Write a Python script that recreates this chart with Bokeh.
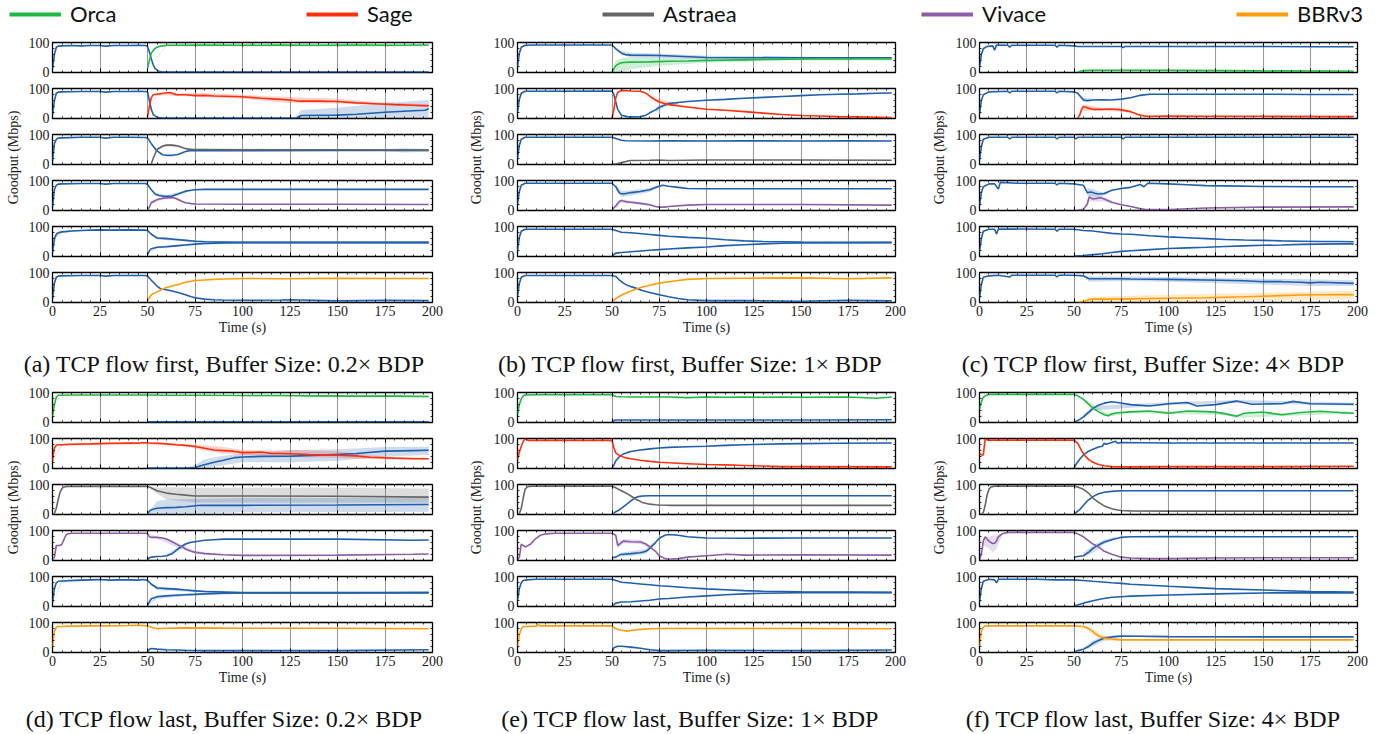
import numpy as np
from math import pi
from bokeh.plotting import figure
from bokeh.layouts import column, row
from bokeh.models import (Range1d, FixedTicker, LinearAxis, Label, Legend, LegendItem,
                          CustomLabelingPolicy)
from bokeh.embed import file_html
from bokeh.resources import INLINE

# ---------------------------------------------------------------- data
ALGOS = ["Orca", "Sage", "Astraea", "Vivace", "TCP", "BBRv3"]
LEGEND_ALGOS = ["Orca", "Sage", "Astraea", "Vivace", "BBRv3"]
CAPTIONS_TOP = ["(a) TCP flow first, Buffer Size: 0.2\u00d7 BDP",
                "(b) TCP flow first, Buffer Size: 1\u00d7 BDP",
                "(c) TCP flow first, Buffer Size: 4\u00d7 BDP"]
CAPTIONS_BOTTOM = ["(d) TCP flow last, Buffer Size: 0.2\u00d7 BDP",
                   "(e) TCP flow last, Buffer Size: 1\u00d7 BDP",
                   "(f) TCP flow last, Buffer Size: 4\u00d7 BDP"]
X_TICKS = [0, 25, 50, 75, 100, 125, 150, 175, 200]
Y_TICKS = [0, 100]

# series: lists of (time s, goodput Mbps); bands: (time, low, high)
# ---- (a) TCP first, 0.2x BDP
A_TCP = [
    [(0,10),(1,60),(2,85),(3,89),(5,90),(10,91),(15,90),(20,91),(25,91),(28,89),(32,91),(40,91),(45,92),(49,91),(50,88),(51,70),(52,45),(53,25),(54,12),(56,3),(58,0),(198,0)],
    [(0,10),(1,60),(2,85),(3,89),(5,90),(15,91),(25,91),(28,89),(32,91),(40,91),(45,92),(49,91),(50,90),(51,60),(52,30),(53,12),(55,3),(58,0),(128,0),(131,9),(150,10),(160,13),(175,20),(190,25),(196,27),(198,32)],
    [(0,10),(1,70),(2,85),(3,89),(5,90),(15,92),(25,92),(28,89),(32,92),(40,92),(49,91),(50,90),(52,70),(55,45),(58,32),(60,30),(63,30),(66,33),(70,43),(73,47),(75,46),(100,46),(150,47),(198,47)],
    [(0,10),(1,70),(2,85),(3,89),(5,90),(15,91),(25,91),(28,89),(32,91),(49,91),(50,88),(52,70),(54,55),(56,50),(58,48),(60,47),(63,48),(66,55),(70,65),(73,68),(75,70),(80,71),(100,71),(150,71),(198,71)],
    [(0,10),(1,60),(2,75),(3,80),(5,83),(10,86),(15,88),(20,89),(25,90),(30,89),(40,90),(49,89),(50,88),(52,75),(55,62),(60,60),(65,57),(70,54),(75,51),(80,49),(90,48),(100,47),(150,47),(198,47)],
    [(0,10),(1,65),(2,85),(3,89),(5,90),(15,91),(25,91),(28,89),(32,91),(49,91),(50,90),(52,75),(55,55),(57,45),(60,42),(63,38),(66,33),(70,25),(73,18),(75,15),(80,10),(85,8),(90,7),(100,6),(120,7),(125,8),(150,4),(175,6),(198,5)],
]
A_CC = [
    [(50,12),(51,40),(52,65),(54,82),(56,88),(58,90),(60,92),(80,93),(100,92),(120,93),(140,92),(160,93),(180,92),(198,93)],
    [(50,5),(51,40),(52,70),(53,80),(55,82),(58,85),(62,88),(65,80),(70,80),(75,77),(80,78),(85,76),(90,75),(100,73),(110,68),(120,64),(125,62),(130,58),(140,58),(150,57),(160,52),(170,49),(180,46),(190,44),(198,42)],
    [(52,0),(53,20),(55,50),(58,62),(60,65),(63,65),(66,62),(68,58),(70,53),(73,50),(75,50),(100,49),(150,49),(198,48)],
    [(50,0),(51,10),(52,25),(54,33),(56,38),(58,40),(60,42),(63,43),(65,40),(68,30),(70,25),(73,22),(75,21),(100,20),(150,20),(198,19)],
    [(50,5),(51,18),(52,25),(55,30),(60,32),(65,35),(70,38),(75,41),(80,43),(90,45),(100,46),(150,46),(198,46)],
    [(50,3),(51,15),(52,25),(55,35),(58,45),(60,50),(63,55),(66,60),(70,68),(75,74),(80,76),(85,78),(90,79),(100,81),(120,80),(150,82),(175,81),(198,81)],
]
A_TCP_BAND = [
    [],
    [(128,0,0),(131,0,28),(150,0,35),(175,0,52),(198,0,62)],
    [(175,44,52),(185,40,54),(198,42,52)],
    [(54,50,60),(60,42,52),(66,50,60),(72,64,70)],
    [(0,10,10),(2,65,82),(5,78,86),(10,83,88),(20,88,90),(49,89,89),(50,88,88),(55,57,67),(65,53,61),(75,48,54),(100,45,49),(150,45,49),(198,43,51)],
    [],
]
A_CC_BAND = [
    [(50,12,12),(60,89,94),(100,89,95),(150,88,95),(198,89,95)],
    [(50,5,5),(55,78,86),(70,75,85),(80,72,86),(100,66,80),(110,60,76),(125,52,72),(150,50,66),(170,45,55),(198,38,47)],
    [(55,47,53),(60,60,70),(66,58,66),(70,50,56),(75,47,53),(198,46,50)],
    [(52,20,30),(58,35,45),(64,38,47),(70,22,28),(75,19,23)],
    [(50,5,5),(55,26,34),(75,38,44),(100,44,48),(198,43,49)],
    [],
]

# ---- (b) TCP first, 1x BDP
B_TCP = [
    [(0,20),(1,65),(2,85),(4,92),(10,93),(50,93),(52,80),(55,65),(57,60),(60,58),(75,57),(100,50),(150,49),(198,49)],
    [(0,20),(1,65),(2,85),(4,92),(50,93),(51,80),(52,55),(53,30),(55,10),(58,5),(60,4),(65,5),(68,10),(70,18),(73,28),(75,37),(78,45),(80,50),(90,57),(100,61),(110,64),(120,68),(130,71),(140,74),(150,77),(160,80),(170,82),(180,83),(190,85),(198,86)],
    [(0,20),(1,65),(2,85),(4,92),(50,92),(52,88),(55,82),(57,80),(70,79),(80,80),(100,79),(120,80),(150,79),(175,80),(198,79)],
    [(0,20),(1,65),(2,85),(4,92),(50,92),(52,80),(54,58),(56,55),(60,60),(65,64),(70,70),(74,80),(77,85),(80,82),(85,78),(90,74),(100,73),(120,73),(150,73),(198,73)],
    [(0,20),(1,65),(2,85),(4,92),(50,92),(52,88),(55,82),(60,80),(70,74),(75,71),(80,68),(90,64),(100,61),(110,56),(120,52),(130,50),(140,49),(150,48),(198,47)],
    [(0,20),(1,65),(2,85),(4,91),(50,91),(52,88),(54,75),(56,65),(58,58),(60,53),(63,47),(66,40),(70,33),(75,25),(80,18),(85,12),(90,8),(100,5),(120,5),(150,3),(175,6),(198,4)],
]
B_CC = [
    [(50,0),(51,12),(52,22),(54,30),(56,33),(60,34),(70,35),(80,37),(90,38),(100,40),(120,42),(140,44),(160,45),(180,45),(198,45)],
    [(50,0),(51,30),(52,70),(53,88),(55,95),(58,94),(60,93),(65,92),(68,85),(70,75),(73,62),(75,55),(80,46),(90,38),(100,30),(110,27),(120,22),(130,17),(140,12),(150,9),(160,7),(170,5),(180,4),(190,3),(198,2)],
    [(50,0),(52,0),(55,5),(58,10),(60,12),(70,13),(75,14),(80,12),(90,13),(100,14),(150,14),(198,13)],
    [(50,0),(52,15),(54,30),(55,33),(58,28),(60,27),(65,23),(70,18),(73,12),(75,10),(78,10),(80,12),(90,17),(100,19),(120,19),(150,19),(198,17)],
    [(50,0),(52,10),(55,12),(60,15),(70,20),(75,22),(80,24),(90,28),(100,31),(110,36),(120,39),(130,42),(140,44),(150,45),(198,46)],
    [(50,0),(52,12),(54,20),(56,27),(58,32),(60,38),(63,45),(66,52),(70,58),(75,65),(80,70),(85,74),(90,78),(100,81),(120,82),(150,83),(175,80),(198,83)],
]
B_TCP_BAND = [
    [(50,93,93),(55,60,72),(60,50,66),(75,48,64),(100,46,56),(150,45,53),(198,45,51)],
    [(73,20,36),(78,38,52),(85,48,56)],
    [],
    [(52,70,88),(55,45,65),(60,50,68),(70,62,76),(76,80,88)],
    [],
    [],
]
B_CC_BAND = [
    [(50,0,0),(52,0,40),(56,0,50),(60,10,50),(75,22,48),(100,32,47),(150,40,49),(198,40,48)],
    [(73,55,68),(78,48,60),(85,42,50)],
    [],
    [(52,5,25),(55,25,38),(60,22,32),(70,15,22)],
    [],
    [],
]

# ---- (c) TCP first, 4x BDP
C_TCP = [
    [(0,15),(1,60),(2,80),(4,88),(7,90),(8,75),(9,93),(15,92),(16,85),(17,92),(40,92),(41,85),(42,92),(50,90),(52,88),(75,88),(76,84),(77,88),(100,88),(125,88),(150,88),(175,87),(198,87)],
    [(0,15),(1,60),(2,80),(5,90),(15,92),(16,86),(17,92),(40,92),(41,86),(42,92),(50,90),(52,85),(54,70),(55,62),(57,60),(60,62),(65,63),(70,62),(75,65),(80,70),(85,78),(90,82),(100,82),(120,82),(150,82),(175,81),(198,81)],
    [(0,15),(1,60),(2,85),(5,92),(15,92),(16,86),(17,92),(40,92),(41,86),(42,92),(50,92),(51,86),(52,92),(75,92),(76,86),(77,92),(100,92),(125,92),(150,92),(175,92),(198,92)],
    [(0,15),(1,60),(2,80),(5,90),(8,90),(10,72),(11,95),(20,92),(40,92),(41,86),(42,92),(50,90),(52,88),(55,85),(57,60),(59,62),(61,58),(63,55),(66,57),(70,68),(75,74),(80,78),(85,88),(87,80),(89,92),(100,90),(110,87),(120,84),(130,83),(150,81),(175,80),(198,80)],
    [(0,15),(1,60),(2,85),(5,92),(8,92),(9,76),(10,93),(40,92),(41,85),(42,92),(50,92),(55,88),(60,86),(65,82),(70,78),(75,76),(80,75),(90,70),(100,66),(110,63),(120,60),(130,57),(140,55),(150,54),(160,52),(170,51),(180,50),(190,50),(198,49)],
    [(0,15),(1,60),(2,85),(5,90),(10,92),(16,86),(17,92),(40,92),(41,86),(42,92),(50,92),(55,90),(58,80),(60,80),(70,80),(75,80),(80,79),(100,78),(120,76),(140,73),(150,70),(160,70),(170,68),(175,66),(180,68),(198,64)],
]
C_CC = [
    [(52,0),(55,5),(60,6),(100,6),(150,4),(198,3)],
    [(52,0),(53,10),(54,30),(55,40),(57,35),(60,30),(65,30),(70,31),(75,28),(80,22),(85,10),(88,6),(90,6),(100,7),(120,6),(150,6),(198,5)],
    [(52,0),(198,0)],
    [(52,0),(55,3),(57,20),(58,45),(60,38),(62,40),(64,42),(66,38),(70,27),(75,18),(78,15),(80,12),(85,5),(88,2),(100,2),(120,7),(150,10),(198,11)],
    [(50,0),(55,2),(60,5),(65,8),(70,12),(75,16),(80,18),(90,22),(100,26),(110,28),(120,30),(130,33),(140,35),(150,37),(160,38),(170,40),(180,41),(190,42),(198,42)],
    [(52,0),(55,2),(58,8),(60,10),(70,10),(80,11),(100,13),(120,15),(140,18),(150,20),(160,22),(170,24),(180,25),(190,26),(198,25)],
]
C_TCP_BAND = [
    [],
    [(52,80,88),(55,55,70),(60,58,66)],
    [],
    [(57,50,75),(60,48,72),(64,45,62),(68,55,64)],
    [],
    [(55,85,95),(58,70,88),(75,72,88),(100,70,86),(150,60,80),(175,55,78),(198,55,75)],
]
C_CC_BAND = [
    [(52,0,0),(55,2,8),(100,2,9),(198,1,5)],
    [(54,25,40),(57,25,45),(65,25,35),(75,22,33),(80,18,26)],
    [],
    [(57,10,30),(58,30,55),(62,28,50),(66,30,45),(70,22,32)],
    [],
    [(52,0,0),(58,0,18),(100,0,25),(150,5,32),(198,10,38)],
]

# ---- (d) TCP last, 0.2x BDP
D_TCP = [
    [(50,1),(198,1)],
    [(50,0),(70,0),(75,2),(78,8),(85,20),(90,27),(96,36),(100,38),(110,40),(126,41),(140,44),(151,47),(160,50),(175,58),(190,60),(198,61)],
    [(50,0),(51,10),(52,15),(55,20),(60,22),(65,23),(70,25),(78,30),(100,30),(150,31),(198,33)],
    [(50,0),(51,8),(52,10),(55,12),(58,13),(60,15),(63,22),(66,38),(68,47),(70,55),(73,61),(75,63),(80,68),(85,70),(90,72),(100,72),(150,72),(190,68),(198,69)],
    [(50,0),(51,15),(52,25),(55,32),(60,35),(65,37),(70,39),(75,40),(80,42),(90,44),(100,45),(150,45),(198,46)],
    [(50,0),(51,10),(52,12),(55,10),(60,8),(70,6),(80,5),(100,5),(150,5),(198,8)],
]
D_CC = [
    [(0,20),(1,60),(2,85),(3,92),(10,93),(20,93),(30,93),(40,93),(50,93),(60,92),(80,92),(100,91),(120,91),(140,90),(160,89),(180,89),(198,88)],
    [(0,25),(1,70),(2,78),(3,80),(5,80),(10,82),(20,83),(25,84),(30,85),(35,85),(40,86),(45,85),(48,88),(50,86),(55,85),(60,83),(65,80),(70,78),(75,74),(80,68),(85,62),(90,60),(95,58),(100,53),(105,54),(110,55),(115,50),(120,50),(126,49),(135,46),(150,44),(160,42),(167,37),(180,34),(190,32),(198,32)],
    [(0,0),(1,2),(2,20),(3,50),(4,75),(5,88),(6,93),(8,95),(50,95),(52,90),(55,80),(60,72),(65,68),(70,65),(75,62),(100,62),(150,61),(198,58)],
    [(0,0),(1,10),(2,50),(4,50),(5,55),(6,70),(7,85),(8,90),(10,92),(50,92),(51,80),(52,78),(55,78),(58,76),(60,72),(63,63),(66,52),(68,47),(70,38),(73,30),(75,27),(80,22),(90,18),(100,16),(150,17),(190,20),(198,21)],
    [(0,10),(1,60),(2,80),(3,85),(5,86),(10,88),(15,89),(20,90),(25,91),(30,89),(35,90),(40,90),(45,89),(48,91),(50,88),(52,75),(55,62),(60,60),(65,58),(70,55),(75,52),(80,50),(90,48),(100,46),(150,46),(198,46)],
    [(0,20),(1,70),(2,85),(3,88),(5,88),(10,89),(20,90),(30,90),(40,91),(45,92),(50,90),(52,85),(55,80),(60,82),(70,83),(100,82),(150,82),(198,80)],
]
D_TCP_BAND = [
    [],
    [(70,0,0),(75,0,10),(80,0,30),(90,10,42),(100,20,50),(126,20,62),(150,25,65),(175,40,72),(198,45,73)],
    [(50,0,0),(55,0,45),(60,0,50),(100,5,55),(198,8,55)],
    [(60,10,20),(66,30,45),(72,57,66)],
    [(50,0,0),(55,25,38),(75,36,44),(100,42,48),(198,43,49)],
    [],
]
D_CC_BAND = [
    [(100,88,94),(150,85,93),(198,84,92)],
    [(0,25,25),(5,77,84),(50,82,90),(70,74,82),(80,60,78),(90,50,72),(100,45,62),(115,42,60),(126,38,62),(150,35,58),(165,30,45),(180,30,38),(198,30,35)],
    [(50,95,95),(55,70,90),(60,50,92),(75,40,90),(150,40,90),(198,40,88)],
    [(50,92,92),(55,73,82),(65,45,60),(75,22,32),(90,16,20)],
    [(0,10,10),(5,80,90),(20,88,92),(50,88,88),(55,55,68),(75,48,56),(100,44,48),(198,43,49)],
    [],
]

# ---- (e) TCP last, 1x BDP
E_TCP = [
    [(50,0),(51,5),(52,7),(100,7),(150,7),(198,8)],
    [(50,0),(51,10),(52,25),(54,40),(56,48),(58,53),(60,57),(65,62),(70,66),(75,69),(80,71),(90,73),(100,75),(110,78),(120,80),(130,82),(140,83),(150,84),(170,85),(198,86)],
    [(50,0),(51,3),(52,8),(54,15),(56,25),(58,35),(60,45),(62,55),(64,60),(66,62),(70,63),(100,63),(150,63),(198,63)],
    [(50,8),(52,10),(54,18),(56,20),(60,22),(65,25),(68,30),(70,40),(73,60),(75,75),(78,85),(80,88),(85,85),(90,80),(100,76),(120,75),(150,76),(198,76)],
    [(50,0),(52,10),(55,14),(60,15),(70,20),(75,24),(80,26),(90,31),(100,35),(110,39),(120,42),(130,44),(140,45),(150,46),(198,46)],
    [(50,0),(51,15),(53,20),(55,20),(60,17),(65,13),(70,8),(75,5),(80,5),(100,6),(150,5),(198,7)],
]
E_CC = [
    [(0,25),(1,60),(2,80),(3,90),(4,93),(10,94),(20,94),(30,94),(40,94),(50,94),(52,88),(55,87),(60,86),(80,86),(90,84),(100,86),(110,85),(120,86),(130,85),(140,86),(150,85),(175,86),(190,82),(198,86)],
    [(0,30),(1,55),(2,75),(3,92),(4,100),(5,97),(6,95),(50,95),(51,70),(52,52),(54,43),(56,38),(58,34),(60,32),(65,27),(70,23),(75,20),(80,18),(90,15),(100,12),(110,11),(120,9),(130,7),(140,5),(150,5),(198,4)],
    [(0,0),(1,2),(2,20),(3,55),(4,85),(5,92),(6,95),(8,96),(50,96),(52,90),(55,80),(58,70),(60,62),(63,50),(66,40),(70,34),(73,32),(75,31),(80,30),(100,30),(150,30),(198,30)],
    [(0,0),(1,10),(2,55),(3,50),(4,45),(5,48),(7,55),(9,70),(12,85),(15,90),(20,92),(50,92),(52,85),(53,50),(54,55),(56,65),(60,63),(65,62),(68,55),(70,45),(73,30),(75,15),(78,5),(80,3),(85,5),(90,10),(100,15),(111,20),(120,17),(150,18),(198,17)],
    [(0,20),(1,60),(2,80),(3,88),(5,90),(10,92),(50,92),(52,88),(55,82),(60,79),(65,76),(70,73),(75,70),(80,68),(90,63),(100,59),(110,56),(120,53),(130,51),(140,50),(150,49),(198,47)],
    [(0,20),(1,60),(2,80),(3,88),(5,88),(10,89),(11,95),(12,90),(50,90),(52,80),(55,75),(58,72),(60,74),(65,78),(70,80),(75,81),(100,81),(150,81),(198,80)],
]
E_TCP_BAND = [[], [], [], [(54,12,24),(60,14,30),(68,22,38),(72,50,62)], [], []]
E_CC_BAND = [[], [], [], [(52,80,90),(53,40,60),(56,58,72),(65,55,70),(70,38,52)], [], []]

# ---- (f) TCP last, 4x BDP
F_TCP = [
    [(50,0),(52,5),(55,18),(58,35),(60,47),(63,58),(66,65),(70,70),(73,67),(80,60),(90,55),(100,63),(110,67),(115,55),(125,60),(136,72),(144,61),(150,62),(160,63),(166,71),(175,63),(198,61)],
    [(50,0),(51,12),(53,30),(55,45),(57,55),(60,65),(63,72),(65,75),(66,85),(67,82),(70,88),(72,92),(73,85),(75,88),(100,86),(120,86),(150,86),(175,86),(198,86)],
    [(50,0),(51,5),(53,15),(55,30),(57,45),(60,60),(63,70),(66,75),(70,78),(75,80),(100,80),(150,80),(198,80)],
    [(50,10),(52,12),(55,15),(58,28),(60,40),(63,52),(66,62),(70,70),(75,78),(80,80),(100,81),(150,80),(198,80)],
    [(50,0),(55,10),(60,18),(65,25),(70,30),(75,32),(80,34),(100,38),(125,42),(150,45),(175,46),(198,45)],
    [(50,0),(52,5),(55,10),(58,20),(60,30),(63,40),(66,48),(70,52),(75,55),(100,53),(150,52),(198,52)],
]
F_CC = [
    [(0,45),(1,70),(2,85),(3,90),(5,95),(50,95),(52,90),(55,78),(58,60),(60,48),(63,35),(66,25),(68,22),(70,28),(73,32),(80,35),(90,38),(100,30),(110,38),(120,36),(125,34),(130,28),(136,20),(140,30),(150,34),(160,25),(170,33),(180,37),(190,33),(198,30)],
    [(0,50),(1,45),(2,45),(3,100),(4,97),(5,96),(50,96),(52,85),(54,60),(56,40),(58,28),(60,20),(63,12),(66,8),(70,5),(75,4),(100,5),(150,5),(198,6)],
    [(0,0),(1,0),(2,5),(3,30),(4,65),(5,85),(6,93),(8,96),(50,96),(52,93),(55,85),(58,70),(60,55),(63,40),(66,28),(70,18),(73,14),(75,12),(80,11),(100,10),(150,10),(198,10)],
    [(0,0),(1,20),(2,65),(3,80),(4,72),(5,65),(6,60),(7,57),(8,58),(9,65),(10,80),(12,90),(15,95),(50,95),(52,90),(55,80),(58,65),(60,55),(63,45),(66,30),(70,20),(75,10),(80,7),(90,5),(100,5),(120,7),(150,8),(198,8)],
    [(0,15),(1,60),(2,85),(5,92),(8,90),(9,80),(10,92),(30,92),(40,90),(50,90),(55,88),(60,85),(70,80),(75,78),(80,75),(100,68),(125,60),(150,55),(175,50),(198,48)],
    [(0,20),(1,70),(2,85),(3,90),(50,90),(55,88),(58,80),(60,70),(63,55),(66,48),(70,45),(75,42),(100,42),(150,42),(198,42)],
]
F_TCP_BAND = [
    [(55,10,25),(60,40,55),(100,58,68),(136,66,76),(198,56,66)],
    [], [],
    [(55,8,25),(60,25,50),(66,55,70),(72,72,80)],
    [],
    [(55,5,15),(60,20,40),(66,40,55),(75,50,58)],
]
F_CC_BAND = [
    [(50,95,95),(55,75,82),(68,18,28),(80,30,40),(130,24,34),(136,15,25),(160,20,30),(190,28,38),(198,26,35)],
    [], [],
    [(0,0,0),(2,50,75),(5,40,80),(7,25,85),(9,40,85),(12,85,93)],
    [],
    [(55,85,90),(60,60,80),(66,38,55),(75,38,46)],
]

# ---------------------------------------------------------------- style
TCP_COLOR = "#1f5fad"
ALGO_COLORS = ["#20b845", "#ff3010", "#666666", "#8b5fa5", TCP_COLOR, "#ff9d0a"]
SERIF = "Liberation Serif"
SANS = "Lato"


def style_axis(ax, ticks, minor, labels):
    ax.ticker = FixedTicker(ticks=ticks, minor_ticks=minor)
    ax.axis_line_color = None
    ax.major_tick_in = 4
    ax.major_tick_out = 0
    ax.minor_tick_in = 2
    ax.minor_tick_out = 0
    ax.major_tick_line_color = "black"
    ax.minor_tick_line_color = "black"
    ax.major_tick_line_width = 1
    ax.minor_tick_line_width = 0.8
    ax.major_label_text_font = SERIF
    ax.major_label_text_color = "#1a1a1a"
    if labels:
        ax.major_label_text_font_size = "14px"
        ax.major_label_standoff = 3
    else:
        ax.major_label_policy = CustomLabelingPolicy(code="return new Set()")
        ax.major_label_text_font_size = "0px"
        ax.major_label_standoff = 0


X_MINOR = [t for t in range(5, 200, 5) if t % 25]
Y_MINOR = [20, 40, 60, 80]


def make_sub(tcp, cc, tcp_band, cc_band, k, bl, fw, br, last):
    h = 78 if last else 46
    p = figure(width=bl + fw + br, height=h, x_range=Range1d(0, 200),
               y_range=Range1d(-1.5, 101.5), toolbar_location=None,
               output_backend="svg", title=None,
               min_border_left=bl, min_border_right=br,
               min_border_top=8, min_border_bottom=(40 if last else 8))
    p.outline_line_color = "black"
    p.outline_line_width = 1.3
    p.background_fill_color = "white"
    p.border_fill_color = "white"
    p.ygrid.grid_line_color = None
    p.xgrid.ticker = FixedTicker(ticks=X_TICKS[1:-1])
    p.xgrid.grid_line_color = "#9a9a9a"
    p.xgrid.grid_line_width = 1.1
    bottom = p.below[0]
    left = p.left[0]
    style_axis(bottom, X_TICKS, X_MINOR, last)
    style_axis(left, Y_TICKS, Y_MINOR, True)
    top = LinearAxis()
    style_axis(top, X_TICKS, X_MINOR, False)
    p.add_layout(top, "above")
    right = LinearAxis()
    style_axis(right, Y_TICKS, Y_MINOR, False)
    p.add_layout(right, "right")
    if last:
        bottom.axis_label = "Time (s)"
        bottom.axis_label_text_font = SERIF
        bottom.axis_label_text_font_size = "14px"
        bottom.axis_label_text_font_style = "normal"
        bottom.axis_label_text_color = "#1a1a1a"
        bottom.axis_label_standoff = 1

    cc_color = ALGO_COLORS[k]
    for band, col in ((tcp_band, TCP_COLOR), (cc_band, cc_color)):
        if band:
            p.varea(x=[b[0] for b in band], y1=[b[1] for b in band],
                    y2=[b[2] for b in band], fill_color=col, fill_alpha=0.22)
    for s, col in ((tcp, TCP_COLOR), (cc, cc_color)):
        p.line(x=[a for a, _ in s], y=[b for _, b in s], line_color=col,
               line_width=1.6)
    return p


def blank(w, h):
    p = figure(width=w, height=h, x_range=Range1d(0, 1), y_range=Range1d(0, 1),
               toolbar_location=None, output_backend="svg", title=None,
               min_border=0, x_axis_type=None, y_axis_type=None)
    p.outline_line_color = None
    p.background_fill_color = "white"
    p.border_fill_color = "white"
    return p


# geometry per column: (ylabel width, border left, frame width, border right, ylabel x)
GEOM = [(22, 30, 380, 28, 13), (30, 26, 379, 35, 16), (20, 29, 378, 35, 9)]


def panel(tcp, cc, tb, cb, g):
    ylw, bl, fw, br, ylx = g
    subs = [make_sub(tcp[k], cc[k], tb[k], cb[k], k, bl, fw, br, k == 5)
            for k in range(6)]
    yl = blank(ylw, 308)
    yl.add_layout(Label(x=ylx, y=185, x_units="screen", y_units="screen",
                        text="Goodput (Mbps)", angle=pi / 2, text_align="center",
                        text_baseline="middle", text_font=SERIF,
                        text_font_size="14px", text_color="#1a1a1a"))
    return row(yl, column(*subs, spacing=0), spacing=0)


# legend: one strip per entry, preceded by a small spacer
LEG_W = [297, 296, 319, 315, 156]
leg_figs = [blank(9, 34)]
for name, w in zip(LEGEND_ALGOS, LEG_W):
    lf = blank(w, 34)
    col = ALGO_COLORS[ALGOS.index(name)]
    r = lf.line(x=[-5, -4], y=[-5, -5], line_color=col, line_width=4)
    lg = Legend(items=[LegendItem(label=name, renderers=[r])], location="top_left",
                orientation="horizontal", glyph_width=52, glyph_height=20,
                label_standoff=9, padding=0, margin=0, spacing=0, label_height=20,
                border_line_color=None, background_fill_alpha=0,
                label_text_font=SANS, label_text_font_size="22px",
                label_text_line_height=0.8,
                label_text_color="#111111")
    lf.add_layout(lg)
    leg_figs.append(lf)
leg = row(*leg_figs, spacing=0)

CAP_X = [224, 690, 1153]
cap_top = blank(1392, 42)
for txt, cx in zip(CAPTIONS_TOP, CAP_X):
    cap_top.add_layout(Label(x=cx, y=21, x_units="screen", y_units="screen", text=txt,
                             text_align="center", text_baseline="middle",
                             text_font=SERIF, text_font_size="24px",
                             text_color="#111111"))
cap_bot = blank(1392, 42)
for txt, cx in zip(CAPTIONS_BOTTOM, CAP_X):
    cap_bot.add_layout(Label(x=cx, y=16, x_units="screen", y_units="screen", text=txt,
                             text_align="center", text_baseline="middle",
                             text_font=SERIF, text_font_size="24px",
                             text_color="#111111"))

top_row = row(panel(A_TCP, A_CC, A_TCP_BAND, A_CC_BAND, GEOM[0]),
              panel(B_TCP, B_CC, B_TCP_BAND, B_CC_BAND, GEOM[1]),
              panel(C_TCP, C_CC, C_TCP_BAND, C_CC_BAND, GEOM[2]), spacing=0)
bot_row = row(panel(D_TCP, D_CC, D_TCP_BAND, D_CC_BAND, GEOM[0]),
              panel(E_TCP, E_CC, E_TCP_BAND, E_CC_BAND, GEOM[1]),
              panel(F_TCP, F_CC, F_TCP_BAND, F_CC_BAND, GEOM[2]), spacing=0)

layout = column(leg, top_row, cap_top, bot_row, cap_bot, spacing=0)

open("out.html", "w").write(file_html(layout, INLINE))
